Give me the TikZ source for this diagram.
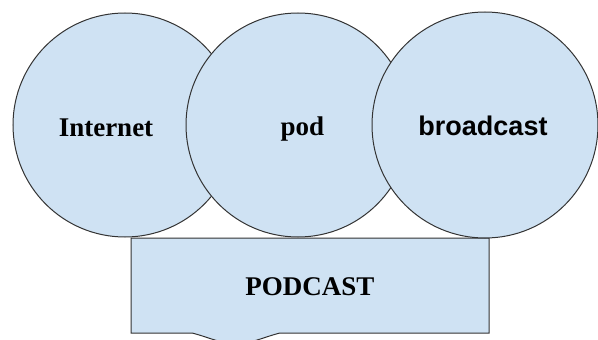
\documentclass[tikz,border=0pt]{standalone}
\usepackage{fontspec}
\newfontfamily\serifbf{Liberation Serif}
\newfontfamily\sansbf{Liberation Sans}
\definecolor{lightblue}{HTML}{CFE2F3}
\definecolor{edge}{HTML}{333333}
\tikzset{
  circ/.style={circle, draw=edge, fill=lightblue, line width=1pt, minimum size=224pt, inner sep=0pt},
  lbl/.style={anchor=base, inner sep=0pt, font=\fontsize{27}{30}\selectfont\bfseries},
}
\begin{document}
\begin{tikzpicture}[x=1pt, y=-1pt]
\useasboundingbox (0,0) rectangle (598,340);
% document-shaped box
\filldraw[draw=edge, fill=lightblue, line width=1pt]
  (131,238) -- (489,238) -- (489,333) -- (280,333)
  .. controls (264,337) and (250,344) .. (236,344)
  .. controls (222,344) and (208,337) .. (192,333)
  -- (131,333) -- cycle;
\node[lbl, font=\serifbf\fontsize{27}{30}\selectfont\bfseries] (podcast) at (310,295) {PODCAST};
% circles
\node[circ] (internet) at (125,125) {};
\node[circ] (pod) at (298,125) {};
\node[circ, minimum size=226pt] (broadcast) at (485,125) {};
\node[lbl, font=\serifbf\fontsize{27}{30}\selectfont\bfseries] (tInternet) at (106,136) {Internet};
\node[lbl, font=\serifbf\fontsize{27}{30}\selectfont\bfseries] (tPod) at (302.5,135.5) {pod};
\node[lbl, font=\sansbf\fontsize{27}{30}\selectfont\bfseries] (tBroadcast) at (483,135) {broadcast};
\end{tikzpicture}
\end{document}
